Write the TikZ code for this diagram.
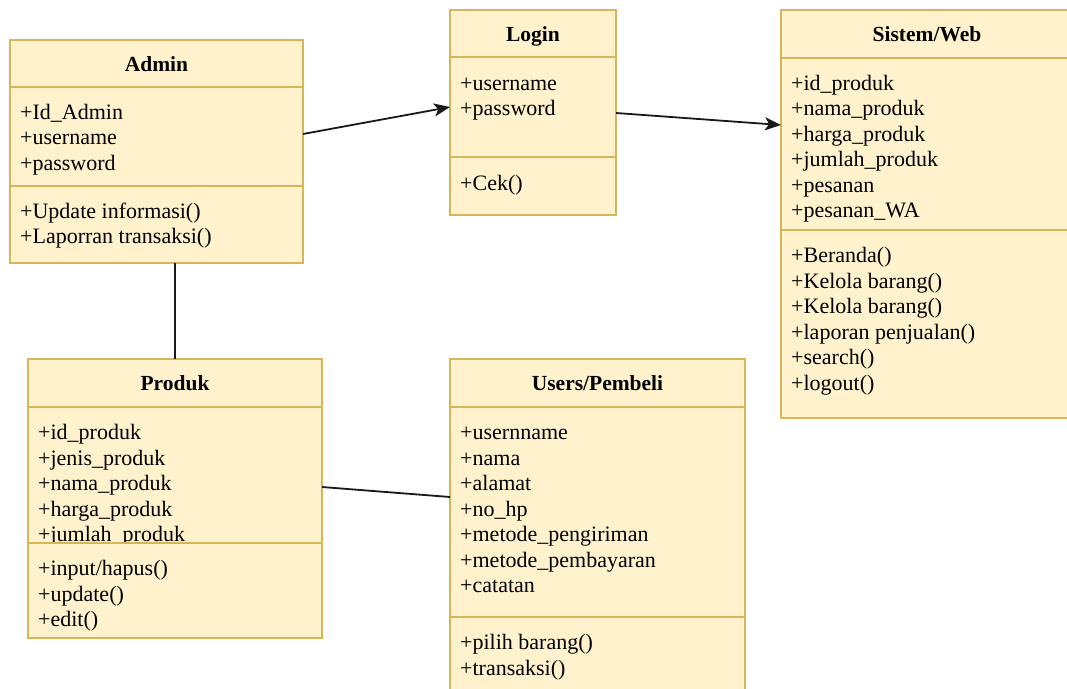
\documentclass[tikz,border=0pt]{standalone}
\usepackage{fontspec}
\setmainfont{Liberation Serif}
\usepackage{tikz}
\usetikzlibrary{arrows.meta, positioning}

\definecolor{umlfill}{HTML}{FFF2CC}
\definecolor{umlborder}{HTML}{D6B656}

\begin{document}
\begin{tikzpicture}[x=1pt, y=-1pt,
    classbox/.style={draw=umlborder, fill=umlfill, line width=1.5pt, anchor=north west, inner sep=0, outer sep=0},
    section/.style={draw=umlborder, fill=umlfill, line width=1.5pt},
    classname/.style={anchor=base, inner sep=0, font=\fontsize{21.5}{25}\selectfont\bfseries},
    member/.style={anchor=base west, inner sep=0, font=\fontsize{22}{25}\selectfont},
    link/.style={line width=1.8pt, draw=black!90},
    arrow/.style={link, -{Stealth[length=16pt, width=13pt, inset=4pt]}}]
    \useasboundingbox (0,0) rectangle (1067,688);
    \clip (0,0) rectangle (1067,688);

    % Admin
    \node[classbox, minimum width=293pt, minimum height=223pt] (admin) at (10,40) {};
    \draw[section] (10,87) -- (303,87);
    \node[classname] (admin-name) at (156.5,71) {Admin};
    \foreach \m [count=\i from 0] in {+Id\_Admin, +username, +password}
        \node[member] (admin-a\i) at (20,119+25.5*\i) {\m};
    \filldraw[section] (10,186) rectangle (303,263);
    \foreach \m [count=\i from 0] in {+Update informasi(), +Laporran transaksi()}
        \node[member] (admin-m\i) at (20,218+25.5*\i) {\m};

    % Login
    \node[classbox, minimum width=166pt, minimum height=205pt] (login) at (450,10) {};
    \draw[section] (450,57) -- (616,57);
    \node[classname] (login-name) at (533,41) {Login};
    \foreach \m [count=\i from 0] in {+username, +password}
        \node[member] (login-a\i) at (460,90+25.5*\i) {\m};
    \filldraw[section] (450,157) rectangle (616,215);
    \node[member] (login-m0) at (460,190) {+Cek()};

    % Sistem/Web
    \node[classbox, minimum width=292pt, minimum height=408pt] (sistem) at (781,10) {};
    \draw[section] (781,58) -- (1073,58);
    \node[classname] (sistem-name) at (927,41) {Sistem/Web};
    \foreach \m [count=\i from 0] in {+id\_produk, +nama\_produk, +harga\_produk, +jumlah\_produk, +pesanan, +pesanan\_WA}
        \node[member] (sistem-a\i) at (791,90+25.5*\i) {\m};
    \filldraw[section] (781,230) rectangle (1073,418);
    \foreach \m [count=\i from 0] in {+Beranda(), +Kelola barang(), +Kelola barang(), +laporan penjualan(), +search(), +logout()}
        \node[member] (sistem-m\i) at (791,262.5+25.5*\i) {\m};

    % Produk
    \node[classbox, minimum width=294pt, minimum height=279pt] (produk) at (28,359) {};
    \draw[section] (28,407) -- (322,407);
    \node[classname] (produk-name) at (175,390) {Produk};
    \foreach \m [count=\i from 0] in {+id\_produk, +jenis\_produk, +nama\_produk, +harga\_produk, +jumlah\_produk}
        \node[member] (produk-a\i) at (38,439.5+25.5*\i) {\m};
    \filldraw[section] (28,543) rectangle (322,638);
    \foreach \m [count=\i from 0] in {+input/hapus(), +update(), +edit()}
        \node[member] (produk-m\i) at (38,575.5+25.5*\i) {\m};

    % Users/Pembeli
    \node[classbox, minimum width=295pt, minimum height=345pt] (users) at (450,359) {};
    \draw[section] (450,407) -- (745,407);
    \node[classname] (users-name) at (597.5,390) {Users/Pembeli};
    \foreach \m [count=\i from 0] in {+usernname, +nama, +alamat, +no\_hp, +metode\_pengiriman, +metode\_pembayaran, +catatan}
        \node[member] (users-a\i) at (460,439.5+25.5*\i) {\m};
    \filldraw[section] (450,617) rectangle (745,704);
    \foreach \m [count=\i from 0] in {+pilih barang(), +transaksi()}
        \node[member] (users-m\i) at (460,649.5+25.5*\i) {\m};

    % relations
    \draw[arrow] ([yshift=-94pt]admin.north east) -- ([yshift=-97pt]login.north west);
    \draw[arrow] ([yshift=-103pt]login.north east) -- ([yshift=-115pt]sistem.north west);
    \draw[link] (produk.north) -- (produk.north |- admin.south);
    \draw[link] ([yshift=-128pt]produk.north east) -- ([yshift=-138pt]users.north west);
\end{tikzpicture}
\end{document}
